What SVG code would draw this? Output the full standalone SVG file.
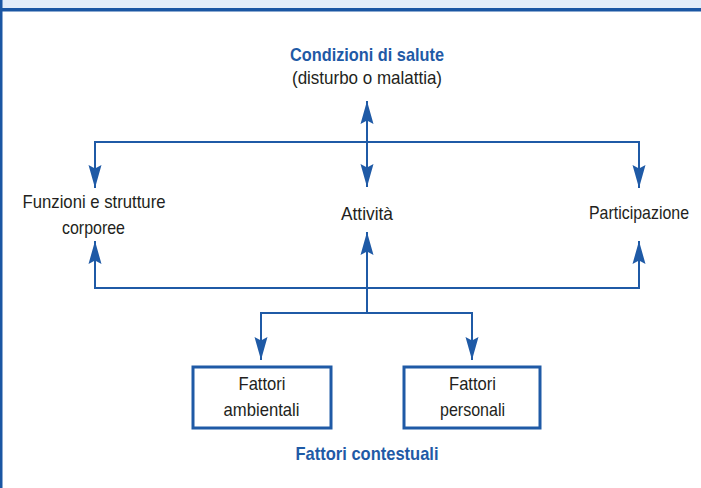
<svg xmlns="http://www.w3.org/2000/svg" width="701" height="488" viewBox="0 0 701 488">
<style>
.t{font-family:"Liberation Sans",Arial,sans-serif;font-size:18.5px;fill:#231f20;text-anchor:middle}
.b{font-family:"Liberation Sans",Arial,sans-serif;font-size:18.5px;font-weight:bold;fill:#1f5aa6;text-anchor:middle}
.c{fill:none;stroke:#1f5aa6;stroke-width:2}
.box{fill:#fff;stroke:#1f5aa6;stroke-width:3}
</style>
<defs>
<marker id="ah" markerUnits="userSpaceOnUse" viewBox="-24 -8 26 16" markerWidth="26" markerHeight="16" refX="0" refY="0" orient="auto">
<path d="M0,0 L-23,-6.5 L-19.5,0 L-23,6.5 Z" fill="#1f5aa6"/>
</marker>
</defs>
<rect x="0" y="0" width="701" height="9" fill="#e3edf9"/>
<rect x="0" y="8" width="701" height="3.5" fill="#1a56a3"/>
<rect x="0" y="0" width="2.5" height="488" fill="#1a56a3"/>

<g id="connectors">
<path class="c" d="M367,142 L367,101" marker-end="url(#ah)"/>
<path class="c" d="M367,142 L367,187" marker-end="url(#ah)"/>
<path class="c" d="M95,142 L639,142"/>
<path class="c" d="M95,141 L95,188" marker-end="url(#ah)"/>
<path class="c" d="M639,141 L639,188" marker-end="url(#ah)"/>
<path class="c" d="M95,288 L639,288"/>
<path class="c" d="M95,289 L95,241" marker-end="url(#ah)"/>
<path class="c" d="M639,289 L639,241" marker-end="url(#ah)"/>
<path class="c" d="M367,313 L367,232" marker-end="url(#ah)"/>
<path class="c" d="M261,313 L472,313"/>
<path class="c" d="M261,312 L261,360" marker-end="url(#ah)"/>
<path class="c" d="M472,312 L472,360" marker-end="url(#ah)"/>
</g>

<g id="condizioni">
<text class="b" x="367" y="60.5" textLength="154" lengthAdjust="spacingAndGlyphs">Condizioni di salute</text>
<text class="t" x="367" y="84" textLength="150" lengthAdjust="spacingAndGlyphs">(disturbo o malattia)</text>
</g>
<g id="funzioni">
<text class="t" x="94" y="208" textLength="143" lengthAdjust="spacingAndGlyphs">Funzioni e strutture</text>
<text class="t" x="93.5" y="234" textLength="63" lengthAdjust="spacingAndGlyphs">corporee</text>
</g>
<g id="attivita">
<text class="t" x="367" y="220" textLength="52" lengthAdjust="spacingAndGlyphs">Attività</text>
</g>
<g id="partecipazione">
<text class="t" x="639" y="218.5" textLength="100" lengthAdjust="spacingAndGlyphs">Participazione</text>
</g>
<g id="ambientali">
<rect class="box" x="193" y="367" width="138" height="61"/>
<text class="t" x="262" y="389.5" textLength="47" lengthAdjust="spacingAndGlyphs">Fattori</text>
<text class="t" x="261.5" y="416" textLength="76" lengthAdjust="spacingAndGlyphs">ambientali</text>
</g>
<g id="personali">
<rect class="box" x="404" y="367" width="136" height="61"/>
<text class="t" x="472.5" y="389.5" textLength="47" lengthAdjust="spacingAndGlyphs">Fattori</text>
<text class="t" x="472.5" y="416" textLength="65" lengthAdjust="spacingAndGlyphs">personali</text>
</g>
<g id="contestuali">
<text class="b" x="367" y="460" textLength="143" lengthAdjust="spacingAndGlyphs">Fattori contestuali</text>
</g>
</svg>
